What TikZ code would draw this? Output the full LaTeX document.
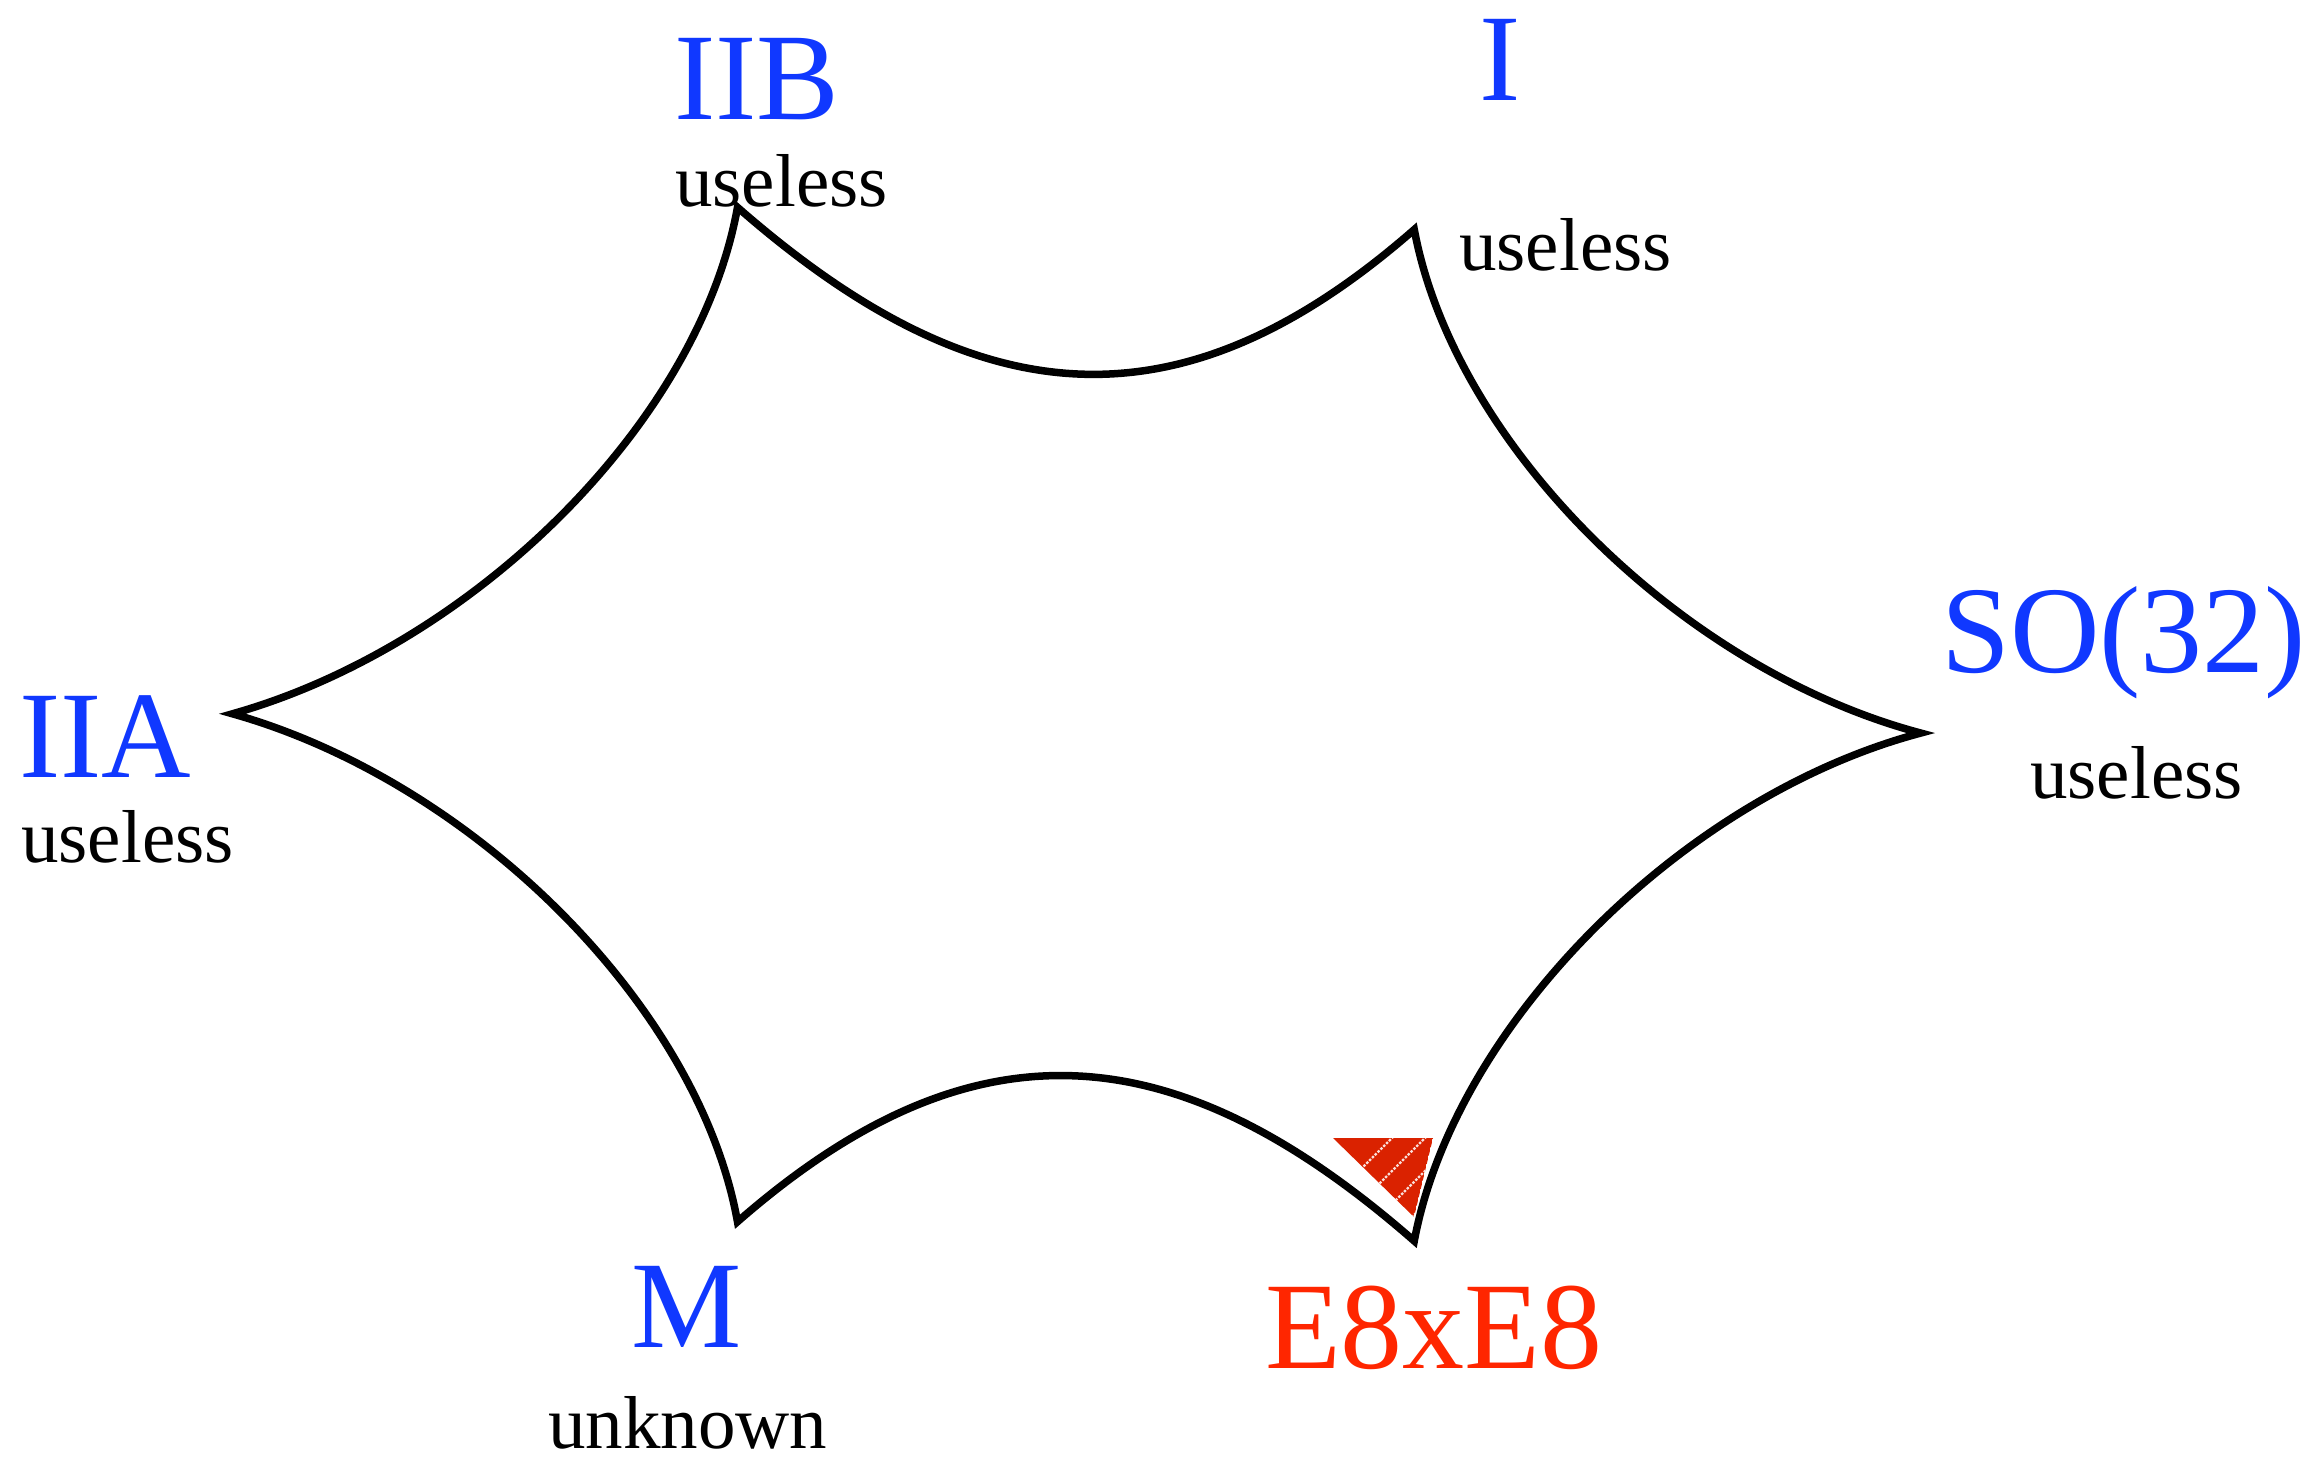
\documentclass[tikz,border=0pt]{standalone}
\usepackage{fontspec}
\setmainfont{Liberation Serif}
\definecolor{lblblue}{RGB}{16,56,255}
\definecolor{lblred}{RGB}{255,38,0}
\definecolor{hatchred}{RGB}{218,34,0}
\begin{document}
\begin{tikzpicture}[x=1pt,y=-1pt,
  big/.style={inner sep=0pt,anchor=base west,font=\fontsize{124}{124}\selectfont},
  small/.style={inner sep=0pt,anchor=base west,font=\fontsize{75}{75}\selectfont},
  edgeline/.style={line width=7.5pt,line join=miter,draw=black}]
\useasboundingbox (0,0) rectangle (2322,1461);
% vertices and control points (display coords scaled)
\begin{scope}[x=1.4809pt,y=-1.4809pt]
  \coordinate (iib) at (498,140);
  \coordinate (i) at (955,155);
  \coordinate (so) at (1297,495);
  \coordinate (e8) at (955,838);
  \coordinate (m) at (498,825);
  \coordinate (iia) at (157,482);
  \coordinate (c1a) at (658,280);  \coordinate (c1b) at (795,295);
  \coordinate (c2a) at (982,300);  \coordinate (c2b) at (1135,452);
  \coordinate (c3a) at (1135,538); \coordinate (c3b) at (982,693);
  \coordinate (c4a) at (795,698);  \coordinate (c4b) at (658,685);
  \coordinate (c5a) at (472,680);  \coordinate (c5b) at (320,528);
  \coordinate (c6a) at (320,436);  \coordinate (c6b) at (472,285);
\end{scope}
% red hatched triangle
\coordinate (t1) at (1333,1138);
\coordinate (t2) at (1433,1138);
\coordinate (t3) at (1414,1217);
\begin{scope}
  \clip (t1) -- (t2) -- (t3) -- cycle;
  \fill[hatchred] (t1) -- (t2) -- (t3) -- cycle;
  \foreach \k in {0,...,8}
    \draw[white!85!hatchred,line width=2.2pt,dash pattern=on 2.5pt off 1.5pt] (1290+\k*33,1240) -- ++(150,-150);
\end{scope}
% outline
\draw[edgeline] (iib) .. controls (c1a) and (c1b) .. (i)
  .. controls (c2a) and (c2b) .. (so)
  .. controls (c3a) and (c3b) .. (e8)
  .. controls (c4a) and (c4b) .. (m)
  .. controls (c5a) and (c5b) .. (iia)
  .. controls (c6a) and (c6b) .. (iib) -- cycle;
% labels
\node[big,text=lblblue] (liib) at (674,120) {IIB};
\node[small] (uiib) at (675,207) {useless};
\node[big,text=lblblue] (li) at (1479,101) {I};
\node[small] (ui) at (1459,270) {useless};
\node[big,text=lblblue] (lso) at (1941,672) {SO(32)};
\node[small] (uso) at (2030,798) {useless};
\node[big,text=lblblue] (liia) at (19,777) {IIA};
\node[small] (uiia) at (21,862) {useless};
\node[big,text=lblblue] (lm) at (631,1347) {M};
\node[small] (um) at (548,1448) {unknown};
\node[big,text=lblred] (le8) at (1265,1368) {E8xE8};
\end{tikzpicture}
\end{document}
